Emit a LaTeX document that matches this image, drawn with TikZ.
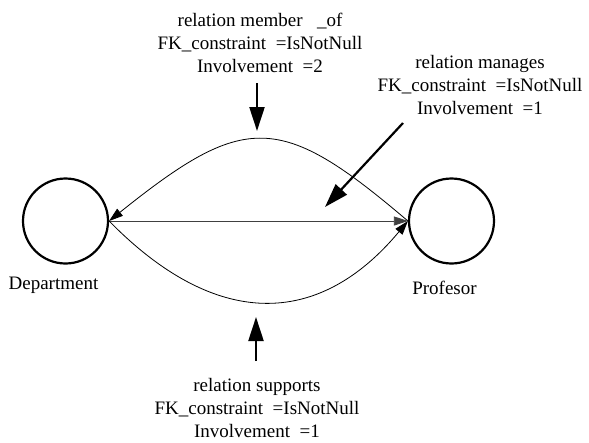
\documentclass[tikz,border=0pt]{standalone}
\usepackage{fontspec}
\setmainfont{Liberation Serif}
\usetikzlibrary{arrows.meta}
\begin{document}
\begin{tikzpicture}[x=1pt,y=-1pt,
  ent/.style={draw, circle, line width=2.2pt, minimum size=85pt, inner sep=0pt},
  lbl/.style={font=\fontsize{19}{23}\selectfont, inner sep=0pt},
  rel/.style={font=\fontsize{19}{23}\selectfont, inner sep=0pt, align=center, anchor=north},
  thin/.style={line width=0.8pt, -{Triangle[length=14pt,width=9pt]}},
  thick/.style={line width=2.2pt, -{Triangle[length=24pt,width=15pt]}}]
\useasboundingbox (0,0) rectangle (589,442);
\node[ent] (dep) at (65.5,221) {};
\node[ent] (prof) at (451.5,221) {};
\node[lbl, anchor=base] (depl) at (53.5,289) {Department};
\node[lbl, anchor=base] (profl) at (444.5,294) {Profesor};
\node[rel] (mem) at (260,12.5) {relation member \ \ \_of\\FK\_constraint \ =IsNotNull\\Involvement \ =2};
\node[rel] (man) at (480,55) {relation manages\\FK\_constraint \ =IsNotNull\\Involvement \ =1};
\node[rel] (sup) at (257,378) {relation supports\\FK\_constraint \ =IsNotNull\\Involvement \ =1};
% connectors
\draw[thin] (prof.west) .. controls (280,112) and (245,112) .. (dep.east);
\draw[thin, draw=black!75] (dep.east) -- (prof.west);
\draw[thin] (dep.east) .. controls (215,329) and (318,329) .. (prof.west);
% pointer arrows
\coordinate (memA) at (257,83);
\coordinate (memB) at (257,131);
\coordinate (manA) at (403,123);
\coordinate (manB) at (325,207);
\coordinate (supA) at (256,361);
\coordinate (supB) at (256,317);
\draw[thick] (memA) -- (memB);
\draw[thick] (manA) -- (manB);
\draw[thick] (supA) -- (supB);
\end{tikzpicture}
\end{document}
